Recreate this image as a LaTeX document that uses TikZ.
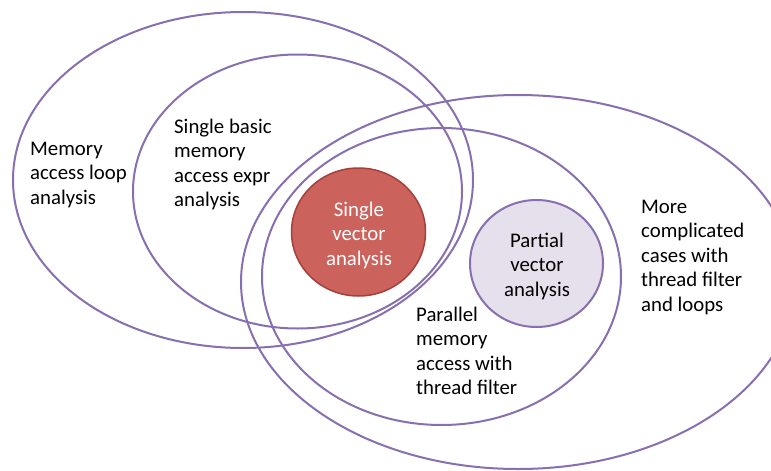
\documentclass[tikz,border=0pt]{standalone}
\usepackage{fontspec}
\setmainfont{Carlito}
\definecolor{vpurple}{RGB}{136,112,176}
\definecolor{vred}{RGB}{204,98,92}
\definecolor{vredline}{RGB}{164,64,60}
\definecolor{vlav}{RGB}{230,224,237}
\tikzset{
  ring/.style={draw=vpurple, line width=2pt},
  lbl/.style={inner sep=0pt, align=left, anchor=north west, font=\fontsize{20.8}{24.5}\selectfont},
  clbl/.style={inner sep=0pt, align=center, anchor=north, font=\fontsize{20.8}{24.5}\selectfont},
}
\begin{document}
\begin{tikzpicture}[x=1pt, y=-1pt]
\clip (0,0) rectangle (771,471);
\fill[white] (0,0) rectangle (771,471);
% outer rings
\draw[ring] (243,180) ellipse [x radius=230, y radius=168];
\draw[ring] (297.5,191.5) ellipse [x radius=164.5, y radius=137];
\draw[ring] (518,282) ellipse [x radius=277, y radius=187];
\draw[ring] (441.5,276.5) ellipse [x radius=179.5, y radius=148.5];
% inner filled discs
\draw[fill=vred, draw=vredline, line width=1.5pt] (358.5,232) ellipse [x radius=67, y radius=64];
\draw[fill=vlav, draw=vpurple, line width=2pt] (536.5,263.5) ellipse [x radius=66.5, y radius=63.5];
% labels
\node[lbl] (mal) at (30,137.8) {\strut Memory\\access loop\\analysis};
\node[lbl] (sbm) at (174,115.8) {\strut Single basic\\memory\\access expr\\analysis};
\node[clbl, text=white] (sva) at (359,198.8) {\strut Single\\vector\\analysis};
\node[clbl] (pva) at (537,229.8) {\strut Partial\\vector\\analysis};
\node[lbl] (pma) at (416,303.8) {\strut Parallel\\memory\\access with\\thread filter};
\node[lbl] (mcc) at (641,195.8) {\strut More\\complicated\\cases with\\thread filter\\and loops};
\end{tikzpicture}
\end{document}
